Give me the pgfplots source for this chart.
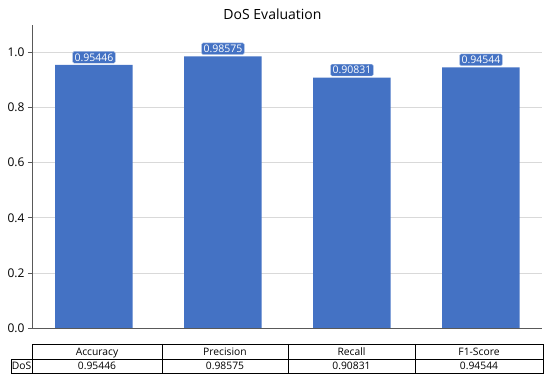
\documentclass[border=0pt]{standalone}
\usepackage{pgfplots}
\pgfplotsset{compat=1.18}
\usepackage{fontspec}
\setmainfont{Open Sans}
\definecolor{barblue}{HTML}{4472C4}
\definecolor{gridgray}{HTML}{D9D9D9}
\definecolor{spine}{HTML}{595959}
\begin{document}
\begin{tikzpicture}
\useasboundingbox (-32pt,-54pt) rectangle (518pt,328pt);
\begin{axis}[
  at={(0pt,0pt)}, anchor=south west,
  x=129pt, y=275.6pt,
  xmin=-0.48, xmax=3.47, ymin=0, ymax=1.1,
  axis x line*=bottom, axis y line*=left,
  axis line style={spine, line width=0.8pt},
  xtick=\empty,
  ytick={0,0.2,0.4,0.6,0.8,1.0},
  yticklabel style={font=\fontsize{12}{14}\selectfont, text=black},
  /pgf/number format/assume math mode=true,
  yticklabel={\pgfmathprintnumber[fixed,fixed zerofill,precision=1]{\tick}},
  ymajorgrids, grid style={gridgray, line width=0.7pt},
  major tick length=4pt, tick align=outside, tick style={spine, line width=0.7pt},
  ybar, bar width=77.5pt,
  clip=false,
  point meta=explicit symbolic,
  nodes near coords={\pgfplotspointmeta},
  every node near coord/.append style={anchor=south, yshift=1.5pt,
    fill=barblue, draw=white!60!barblue, line width=0.4pt, text=white,
    rounded corners=1.5pt, inner xsep=2pt, inner ysep=2pt,
    font=\fontsize{10.5}{12}\selectfont},
]
\addplot[fill=barblue, draw=none] coordinates {
  (0,0.95446) [0.95446]
  (1,0.98575) [0.98575]
  (2,0.90831) [0.90831]
  (3,0.94544) [0.94544]
};
\end{axis}
\node[font=\fontsize{14}{16}\selectfont] at (240.5pt,314pt) {DoS Evaluation};
\begin{scope}[line width=0.7pt]
\draw (0pt,-16pt) rectangle (511pt,-45pt);
\draw (-21pt,-31pt) rectangle (0pt,-45pt);
\draw (0pt,-31pt) -- (511pt,-31pt);
\foreach \xx in {130,256,383} \draw (\xx pt,-16pt) -- (\xx pt,-45pt);
\end{scope}
\begin{scope}[every node/.style={font=\fontsize{10.3}{12}\selectfont, inner sep=0pt, anchor=base}]
\node at (-10.5pt,-42pt) {DoS};
\node at (65pt,-27.5pt) {Accuracy};
\node at (193pt,-27.5pt) {Precision};
\node at (319.5pt,-27.5pt) {Recall};
\node at (447pt,-27.5pt) {F1-Score};
\node at (65pt,-42pt) {0.95446};
\node at (193pt,-42pt) {0.98575};
\node at (319.5pt,-42pt) {0.90831};
\node at (447pt,-42pt) {0.94544};
\end{scope}
\end{tikzpicture}
\end{document}
